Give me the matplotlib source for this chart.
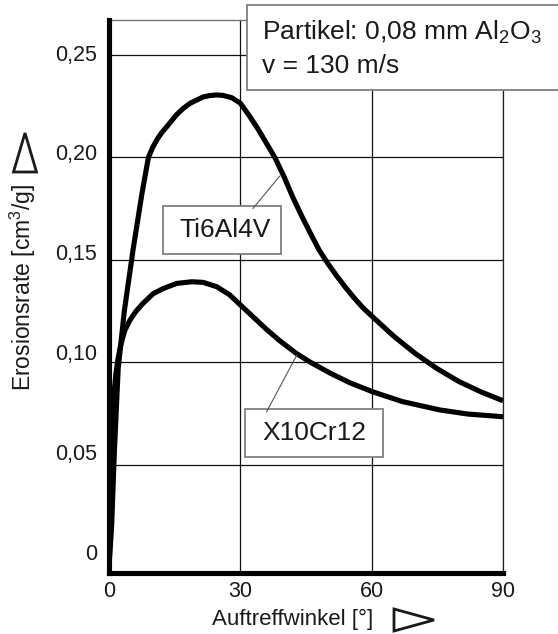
import matplotlib
matplotlib.use("Agg")
import matplotlib.pyplot as plt
from matplotlib.patches import Polygon, Rectangle
from matplotlib.transforms import ScaledTranslation

plt.rcParams['font.family'] = ['Liberation Sans', 'DejaVu Sans']
plt.rcParams['mathtext.fontset'] = 'custom'
plt.rcParams['mathtext.rm'] = 'Liberation Sans'

# ---- data ----
ti_x = [0, 0.6, 1.2, 2.1, 3.5, 5.5, 7.5, 9.0, 10.0, 10.9, 12.0, 13.2, 15.5, 17.0, 18.5, 20.0,
        21.5, 23.0, 24.6, 26.0, 28.0, 30.0, 32.0, 34.0, 36.0, 38.0, 40.0, 42.0, 44.0, 46.0,
        48.0, 50.0, 52.0, 54.0, 56.0, 58.0, 60.0, 65.0, 70.0, 75.0, 80.0, 85.0, 90.0]
ti_y = [0, 0.020, 0.055, 0.097, 0.125, 0.155, 0.182, 0.200, 0.2050, 0.2085, 0.2120, 0.2150,
        0.2210, 0.2240, 0.2264, 0.2280, 0.2295, 0.2302, 0.2305, 0.2303, 0.2292, 0.2265, 0.2205,
        0.2140, 0.2068, 0.1995, 0.1905, 0.1805, 0.1715, 0.1630, 0.1548, 0.1482, 0.1422, 0.1366,
        0.1314, 0.1266, 0.1226, 0.1128, 0.1042, 0.0968, 0.0905, 0.0855, 0.0812]

x10_x = [0, 0.6, 1.14, 1.6, 2.0, 2.5, 3.0, 3.65, 4.8, 6.2, 7.8, 10.1, 12.4, 15.5, 18.9, 21.5,
         24.6, 27.5, 30.0, 33.0, 36.0, 39.0, 42.8, 46.0, 50.5, 55.0, 60.2, 67.0, 75.6, 82.0, 90.0]
x10_y = [0, 0.036, 0.085, 0.0947, 0.1010, 0.1065, 0.1110, 0.1157, 0.1206, 0.1250, 0.1288, 0.1335,
         0.1360, 0.1385, 0.1393, 0.1390, 0.1369, 0.1330, 0.1280, 0.1220, 0.1160, 0.1105, 0.1043,
         0.1000, 0.0947, 0.0900, 0.0856, 0.0808, 0.0767, 0.0747, 0.0734]

x_ticks = [0, 30, 60, 90]
x_ticklabels = ['0', '30', '60', '90']
y_ticks = [0, 0.05, 0.10, 0.15, 0.20, 0.25]
y_ticklabels = ['0', '0,05', '0,10', '0,15', '0,20', '0,25']

series_names = ['Ti6Al4V', 'X10Cr12']
info_lines = [r'Partikel: 0,08 mm Al$_\mathregular{2}$O$_\mathregular{3}$', 'v = 130 m/s']
x_label = 'Auftreffwinkel [°]'
y_label = r'Erosionsrate [cm$^\mathregular{3}$/g]'

W, H = 558, 634
fig = plt.figure(figsize=(W / 100, H / 100), dpi=100)
ax = fig.add_axes([109 / W, 1 - 573 / H, (503 - 109) / W, (573 - 20) / H])
ax.set_xlim(0, 90)
ax.set_ylim(-0.0029, 0.2671)

txt = '#1a1a1a'

# grid
for xv in x_ticks[1:]:
    ax.axvline(xv, color='#111111', lw=0.9, zorder=1)
for yv in y_ticks[1:]:
    ax.axhline(yv, color='#111111', lw=0.9, zorder=1)

ax.plot(ti_x, ti_y, color='black', lw=3.7, solid_joinstyle='round', solid_capstyle='butt', zorder=3)
ax.plot(x10_x, x10_y, color='black', lw=3.7, solid_joinstyle='round', solid_capstyle='butt', zorder=3)

# spines
ax.spines['left'].set_linewidth(3.7)
ax.spines['bottom'].set_linewidth(3.7)
ax.spines['left'].set_zorder(5)
ax.spines['bottom'].set_zorder(5)
ax.spines['top'].set_color('#777777')
ax.spines['top'].set_linewidth(1.0)
ax.spines['right'].set_color('#222222')
ax.spines['right'].set_linewidth(0.9)

ax.set_xticks(x_ticks)
ax.set_xticklabels(x_ticklabels, fontsize=15.5, color=txt)
ax.set_yticks([])
ax.tick_params(axis='x', length=0, pad=6)

# y tick labels (slightly compressed spacing as in original)
for v, lab in zip(y_ticks, y_ticklabels):
    dy = (1 - v / 0.25) * 0.13
    tr = ax.get_yaxis_transform() + ScaledTranslation(0, dy, fig.dpi_scale_trans)
    ax.text(-0.03, v, lab, transform=tr, ha='right', va='center', fontsize=15.5, color=txt)

# axis labels
fig.text(293 / W, 1 - 619 / H, x_label, ha='center', va='center', fontsize=16, color=txt)
fig.text(23 / W, 1 - 287 / H, y_label, ha='center', va='center', rotation=90, fontsize=16.5, color=txt)

# arrow triangles
tri_y = Polygon([(25 / W, 1 - 133 / H), (13.5 / W, 1 - 172 / H), (36.5 / W, 1 - 172 / H)],
                closed=True, fill=False, ec=txt, lw=2.0, transform=fig.transFigure)
tri_x = Polygon([(394 / W, 1 - 609 / H), (394 / W, 1 - 631 / H), (434 / W, 1 - 620 / H)],
                closed=True, fill=False, ec=txt, lw=2.0, transform=fig.transFigure)
fig.add_artist(tri_y)
fig.add_artist(tri_x)

# label boxes with leader lines
box_ec = '#808080'
ax.add_patch(Rectangle((12.3, 0.1528), 39.2 - 12.3, 0.1763 - 0.1528, fill=True, fc='white',
                       ec=box_ec, lw=1.3, zorder=4))
ax.text((12.3 + 39.2) / 2 + 0.8, (0.1528 + 0.1763) / 2, series_names[0], ha='center', va='center',
        fontsize=19, color=txt, zorder=6)
ax.plot([32.9, 39.0], [0.1751, 0.1909], color='#555555', lw=0.8, zorder=4)

ax.add_patch(Rectangle((31.1, 0.0537), 62.6 - 31.1, 0.0771 - 0.0537, fill=True, fc='white',
                       ec=box_ec, lw=1.3, zorder=4))
ax.text((31.1 + 62.6) / 2, (0.0537 + 0.0771) / 2, series_names[1], ha='center', va='center',
        fontsize=19, color=txt, zorder=6)
ax.plot([36.0, 42.9], [0.0758, 0.1035], color='#555555', lw=0.8, zorder=4)

# info box (top right, extends past figure edge)
fig.add_artist(Rectangle((247 / W, 1 - 90 / H), (W + 10 - 247) / W, (90 - 5) / H,
                         fill=True, fc='white', ec=box_ec, lw=1.3, transform=fig.transFigure, zorder=10))
fig.text(262 / W, 1 - 32 / H, info_lines[0], ha='left', va='center', fontsize=19, color=txt, zorder=11)
fig.text(262 / W, 1 - 66 / H, info_lines[1], ha='left', va='center', fontsize=19, color=txt, zorder=11)

fig.savefig('out.png', dpi=100)
